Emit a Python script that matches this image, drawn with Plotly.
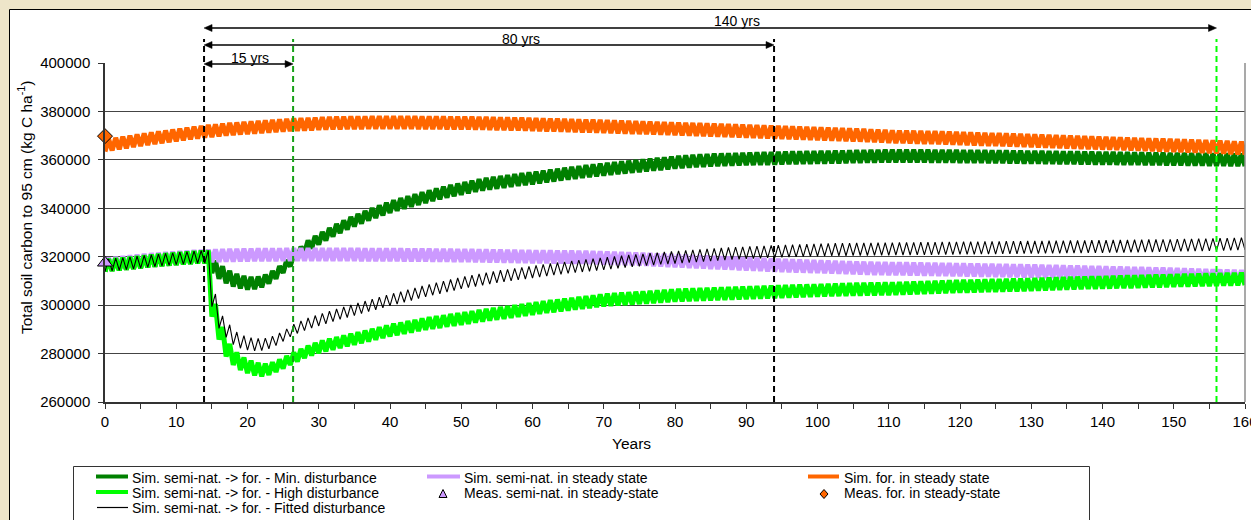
import plotly.graph_objects as go

# ---------------- data (values in thousand kg C/ha) ----------------
years = list(range(0, 161))

# shared pre-disturbance part (years 0-14) of the three semi-nat. -> forest runs
pre_disturb_k = [316.5, 316.8, 317.0, 317.3, 317.6, 317.9, 318.2, 318.5, 318.8, 319.0,
                 319.3, 319.5, 319.7, 319.9, 320.0]

# years 15-160
min_dist_post_k = [315.8, 313.5, 311.6, 310.3, 309.5, 309.0, 309.2, 310.0, 311.5, 313.5, 316.0, 318.6, 321.5, 324.1, 326.0, 327.6,
                   329.3, 330.9, 332.4, 333.8, 335.1, 336.3, 337.5, 338.6, 339.7, 340.7,
                   341.6, 342.4, 343.2, 344.0, 344.8, 345.6, 346.3, 347.0, 347.6, 348.2,
                   348.8, 349.4, 349.9, 350.3, 350.7, 351.1, 351.5, 351.9, 352.2, 352.5,
                   352.9, 353.3, 353.7, 354.1, 354.5, 354.8, 355.2, 355.5, 355.8, 356.1,
                   356.4, 356.7, 357.0, 357.3, 357.6, 357.9, 358.2, 358.4, 358.7, 359.0,
                   359.2, 359.4, 359.6, 359.7, 359.9, 360.0, 360.1, 360.2, 360.3, 360.4,
                   360.5, 360.6, 360.6, 360.7, 360.8, 360.9, 360.9, 361.0, 361.0, 361.1,
                   361.1, 361.2, 361.2, 361.3, 361.4, 361.4, 361.5, 361.5, 361.6, 361.6,
                   361.6, 361.6, 361.6, 361.6, 361.6, 361.5, 361.5, 361.5, 361.5, 361.4,
                   361.4, 361.4, 361.4, 361.3, 361.3, 361.3, 361.2, 361.2, 361.1, 361.1,
                   361.1, 361.0, 361.0, 360.9, 360.9, 360.9, 360.8, 360.8, 360.7, 360.7,
                   360.7, 360.6, 360.6, 360.5, 360.5, 360.4, 360.4, 360.4, 360.3, 360.3,
                   360.3, 360.2, 360.2, 360.2, 360.1, 360.1, 360.1, 360.0, 360.0, 360.0]

high_dist_post_k = [297.9, 288.4, 281.4, 277.9, 275.8, 274.5, 273.6, 273.2, 273.8, 275.0, 276.4, 277.9, 279.3, 280.7, 281.8, 282.8,
                    283.5, 284.2, 284.9, 285.6, 286.2, 286.9, 287.6, 288.3, 289.0, 289.7,
                    290.2, 290.8, 291.3, 291.9, 292.4, 292.8, 293.2, 293.7, 294.1, 294.5,
                    294.9, 295.4, 295.8, 296.2, 296.6, 297.0, 297.4, 297.8, 298.2, 298.6,
                    299.0, 299.4, 299.7, 300.1, 300.4, 300.8, 301.1, 301.4, 301.8, 302.1,
                    302.3, 302.5, 302.7, 302.9, 303.1, 303.3, 303.5, 303.7, 303.9, 304.1,
                    304.2, 304.3, 304.4, 304.5, 304.6, 304.7, 304.8, 304.9, 305.0, 305.1,
                    305.2, 305.3, 305.4, 305.5, 305.6, 305.7, 305.8, 305.9, 306.0, 306.1,
                    306.2, 306.3, 306.4, 306.5, 306.6, 306.6, 306.7, 306.7, 306.8, 306.8,
                    306.9, 307.0, 307.1, 307.2, 307.3, 307.4, 307.5, 307.6, 307.7, 307.8,
                    307.8, 307.9, 308.0, 308.1, 308.1, 308.2, 308.3, 308.3, 308.4, 308.5,
                    308.6, 308.7, 308.8, 308.9, 309.0, 309.1, 309.2, 309.3, 309.3, 309.4,
                    309.5, 309.6, 309.7, 309.7, 309.8, 309.9, 310.0, 310.0, 310.1, 310.2,
                    310.3, 310.3, 310.4, 310.5, 310.5, 310.6, 310.7, 310.7, 310.8, 310.9]

fitted_post_k = [302.0, 293.0, 289.3, 286.3, 284.8, 284.0, 283.7, 283.8, 284.6, 285.9, 287.6, 289.5, 290.9, 292.1, 293.1, 294.0,
                 294.9, 295.8, 296.7, 297.5, 298.3, 299.1, 299.9, 300.7, 301.5, 302.3,
                 303.0, 303.8, 304.5, 305.3, 306.0, 306.7, 307.3, 308.0, 308.6, 309.3,
                 309.8, 310.3, 310.8, 311.3, 311.8, 312.2, 312.6, 313.0, 313.4, 313.8,
                 314.2, 314.6, 315.0, 315.3, 315.7, 316.0, 316.3, 316.6, 316.9, 317.2,
                 317.5, 317.8, 318.1, 318.4, 318.6, 318.9, 319.1, 319.4, 319.6, 319.8,
                 320.0, 320.2, 320.4, 320.6, 320.8, 321.0, 321.2, 321.4, 321.5, 321.7,
                 321.8, 321.9, 322.1, 322.2, 322.3, 322.4, 322.5, 322.6, 322.7, 322.8,
                 322.9, 323.0, 323.0, 323.0, 323.1, 323.1, 323.1, 323.2, 323.2, 323.2,
                 323.3, 323.3, 323.3, 323.4, 323.4, 323.4, 323.5, 323.5, 323.5, 323.6,
                 323.6, 323.6, 323.7, 323.7, 323.7, 323.8, 323.8, 323.8, 323.9, 323.9,
                 323.9, 324.0, 324.0, 324.0, 324.1, 324.1, 324.1, 324.2, 324.2, 324.2,
                 324.3, 324.3, 324.3, 324.4, 324.4, 324.5, 324.5, 324.6, 324.6, 324.7,
                 324.8, 324.8, 324.9, 324.9, 325.0, 325.1, 325.1, 325.2, 325.3, 325.4]

# years 0-160
semi_nat_k = [317.0, 317.3, 317.6, 317.9, 318.2, 318.5, 318.8, 319.0, 319.3, 319.5, 319.7, 319.9, 320.1, 320.2, 320.3,
              320.4, 320.5, 320.6, 320.6, 320.7, 320.7, 320.8, 320.8, 320.8, 320.8,
              320.9, 320.9, 320.9, 320.9, 320.9, 320.9, 320.9, 320.9, 320.9, 320.9,
              320.9, 320.8, 320.8, 320.8, 320.8, 320.8, 320.8, 320.7, 320.7, 320.7,
              320.7, 320.6, 320.6, 320.6, 320.5, 320.5, 320.5, 320.4, 320.4, 320.3,
              320.3, 320.2, 320.2, 320.1, 320.1, 320.0, 320.0, 320.0, 319.9, 319.9,
              319.9, 319.8, 319.8, 319.7, 319.6, 319.5, 319.4, 319.3, 319.2, 319.1,
              319.0, 318.9, 318.7, 318.6, 318.4, 318.3, 318.2, 318.0, 317.9, 317.8,
              317.6, 317.5, 317.4, 317.3, 317.1, 317.0, 316.9, 316.8, 316.6, 316.5,
              316.4, 316.3, 316.2, 316.1, 316.0, 315.9, 315.8, 315.7, 315.6, 315.5,
              315.4, 315.3, 315.2, 315.1, 315.1, 315.0, 315.0, 315.0, 314.9, 314.9,
              314.8, 314.8, 314.7, 314.7, 314.6, 314.6, 314.5, 314.5, 314.4, 314.4,
              314.3, 314.3, 314.2, 314.2, 314.1, 314.1, 314.0, 313.9, 313.9, 313.8,
              313.7, 313.7, 313.6, 313.5, 313.5, 313.4, 313.3, 313.3, 313.2, 313.1,
              313.1, 313.0, 312.9, 312.9, 312.8, 312.7, 312.6, 312.5, 312.4, 312.3,
              312.2, 312.1, 312.0, 311.9, 311.8, 311.7]

forest_k = [366.0, 366.5, 367.0, 367.4, 367.9, 368.3, 368.7, 369.1, 369.5, 369.9, 370.3, 370.7, 371.1, 371.4, 371.8,
            372.0, 372.3, 372.6, 372.8, 373.1, 373.3, 373.5, 373.7, 373.9, 374.1,
            374.3, 374.5, 374.6, 374.7, 374.8, 375.0, 375.1, 375.2, 375.2, 375.3,
            375.3, 375.3, 375.4, 375.4, 375.4, 375.4, 375.4, 375.4, 375.4, 375.3,
            375.3, 375.3, 375.3, 375.2, 375.2, 375.2, 375.2, 375.1, 375.1, 375.0,
            374.9, 374.9, 374.8, 374.8, 374.7, 374.6, 374.5, 374.4, 374.4, 374.3,
            374.2, 374.1, 374.0, 374.0, 373.9, 373.8, 373.7, 373.6, 373.5, 373.4,
            373.3, 373.2, 373.1, 373.0, 372.9, 372.8, 372.7, 372.6, 372.5, 372.4,
            372.3, 372.2, 372.1, 372.0, 371.9, 371.8, 371.7, 371.6, 371.5, 371.4,
            371.3, 371.2, 371.1, 371.0, 370.9, 370.8, 370.7, 370.6, 370.5, 370.4,
            370.3, 370.2, 370.0, 369.9, 369.8, 369.6, 369.5, 369.5, 369.4, 369.3,
            369.2, 369.2, 369.1, 369.0, 368.9, 368.8, 368.7, 368.6, 368.5, 368.4,
            368.4, 368.3, 368.2, 368.1, 368.0, 367.9, 367.8, 367.7, 367.6, 367.5,
            367.4, 367.3, 367.2, 367.1, 367.0, 366.9, 366.8, 366.7, 366.6, 366.5,
            366.4, 366.3, 366.2, 366.1, 366.0, 365.9, 365.8, 365.7, 365.6, 365.5,
            365.4, 365.3, 365.2, 365.0, 364.9, 364.8]

# half of the within-year (seasonal) swing, thousand kg C/ha
swing_k = 2.6

meas_semi_nat = [0, 317500]
meas_forest = [0, 369800]

vline_years = [13.9, 26.4, 93.9, 156.0]
spans = [("15 yrs", 13.9, 26.4), ("80 yrs", 13.9, 93.9), ("140 yrs", 13.9, 156.0)]

y_ticks = [260000, 280000, 300000, 320000, 340000, 360000, 380000, 400000]

# ---------------- helpers ----------------
W, H = 1251, 520
L, R, T, B = 105, 1245, 63, 402
X_MAX = 160


def px(xp):
    return (xp - L) / (R - L)


def py(yp):
    return (B - yp) / (B - T)


def x_to_pix(xv):
    return L + xv * (R - L) / X_MAX


def seasonal(mid_k):
    xs, ys = [], []
    for i, m in enumerate(mid_k):
        xs.append(years[i])
        ys.append((m - swing_k) * 1000)
        if i < len(mid_k) - 1:
            xs.append(years[i] + 0.5)
            ys.append((m + swing_k) * 1000)
    return xs, ys


FONT = "Liberation Sans, Arial, sans-serif"

fig = go.Figure()

series = [
    ("Sim. semi-nat. -> for. - Min. disturbance", pre_disturb_k + min_dist_post_k, "#008000", 5),
    ("Sim. semi-nat. in steady state", semi_nat_k, "#CC99FF", 5),
    ("Sim. for. in steady state", forest_k, "#FF6600", 5),
    ("Sim. semi-nat. -> for. - High disturbance", pre_disturb_k + high_dist_post_k, "#00FF00", 5),
    ("Sim. semi-nat. -> for. - Fitted disturbance", pre_disturb_k + fitted_post_k, "#000000", 1.1),
]
for name, mid, col, w in series:
    xs, ys = seasonal(mid)
    fig.add_trace(go.Scatter(x=xs, y=ys, mode="lines", name=name,
                             line=dict(color=col, width=w), showlegend=False,
                             hoverinfo="skip"))

fig.add_trace(go.Scatter(x=[meas_semi_nat[0]], y=[meas_semi_nat[1]], mode="markers",
                         name="Meas. semi-nat. in steady-state", showlegend=False,
                         marker=dict(symbol="triangle-up", size=13, color="#CC99FF",
                                     line=dict(color="#000000", width=1)),
                         cliponaxis=False, hoverinfo="skip"))
fig.add_trace(go.Scatter(x=[meas_forest[0]], y=[meas_forest[1]], mode="markers",
                         name="Meas. for. in steady-state", showlegend=False,
                         marker=dict(symbol="diamond", size=11.5, color="#FF6600",
                                     line=dict(color="#000000", width=1)),
                         cliponaxis=False, hoverinfo="skip"))

shapes = []
# white chart area with black frame
shapes.append(dict(type="rect", xref="paper", yref="paper",
                   x0=px(9.5), x1=px(1270), y0=py(540), y1=py(9.5),
                   fillcolor="white", line=dict(color="#000000", width=1), layer="below"))
# legend frame
shapes.append(dict(type="rect", xref="paper", yref="paper",
                   x0=px(73.5), x1=px(1089.5), y0=py(540), y1=py(466.5),
                   fillcolor="white", line=dict(color="#333333", width=1), layer="below"))
# right plot border
shapes.append(dict(type="line", xref="paper", yref="paper", x0=1, x1=1, y0=0, y1=1,
                   line=dict(color="#8c8c8c", width=1.5)))

vcols = ["#000000", "#16A016", "#000000", "#00FF00"]
for xv, c in zip(vline_years, vcols):
    shapes.append(dict(type="line", xref="x", yref="paper", x0=xv, x1=xv,
                       y0=0, y1=py(39), line=dict(color=c, width=2, dash="6px,4px")))

annotations = []
arrow_y = {"15 yrs": 64, "80 yrs": 45, "140 yrs": 28}
label_pos = {"15 yrs": (250, 58), "80 yrs": (521, 39), "140 yrs": (737, 21)}
HEAD_L, HEAD_W = 8, 3.5
for lab, a, b in spans:
    yy = arrow_y[lab]
    xa, xb = x_to_pix(a), x_to_pix(b)
    shapes.append(dict(type="line", xref="paper", yref="paper",
                       x0=px(xa + 3), x1=px(xb - 3), y0=py(yy), y1=py(yy),
                       line=dict(color="#000000", width=1.6)))
    shapes.append(dict(type="path", xref="paper", yref="paper",
                       path=(f"M {px(xa)} {py(yy)} L {px(xa + HEAD_L)} {py(yy - HEAD_W)} "
                             f"L {px(xa + HEAD_L)} {py(yy + HEAD_W)} Z"),
                       fillcolor="#000000", line=dict(color="#000000", width=0.5)))
    shapes.append(dict(type="path", xref="paper", yref="paper",
                       path=(f"M {px(xb)} {py(yy)} L {px(xb - HEAD_L)} {py(yy - HEAD_W)} "
                             f"L {px(xb - HEAD_L)} {py(yy + HEAD_W)} Z"),
                       fillcolor="#000000", line=dict(color="#000000", width=0.5)))
    lx, ly = label_pos[lab]
    annotations.append(dict(x=px(lx), y=py(ly), xref="paper", yref="paper", text=lab,
                            showarrow=False, xanchor="center", yanchor="middle",
                            font=dict(family=FONT, size=14, color="#000000")))

# axis titles
annotations.append(dict(x=px(25), y=py(208), xref="paper", yref="paper",
                        text="Total soil carbon to 95 cm (kg C ha<sup>-1</sup>)",
                        textangle=-90, showarrow=False, xanchor="center", yanchor="middle",
                        font=dict(family=FONT, size=15.5, color="#000000")))
annotations.append(dict(x=px(631), y=py(443), xref="paper", yref="paper", text="Years",
                        showarrow=False, xanchor="center", yanchor="middle",
                        font=dict(family=FONT, size=15.5, color="#000000")))

# custom legend
leg_font = dict(family=FONT, size=14, color="#000000")
leg_lines = [
    (96, 128, 476.5, "#008000", 4, 130, 477.5, "Sim. semi-nat. -> for. - Min. disturbance"),
    (96, 128, 492, "#00FF00", 4, 130, 493, "Sim. semi-nat. -> for. - High disturbance"),
    (97, 128, 507.5, "#000000", 1.2, 130, 507.5, "Sim. semi-nat. -> for. - Fitted disturbance"),
    (427, 460, 476.5, "#CC99FF", 4, 462, 477.5, "Sim. semi-nat. in steady state"),
    (808, 839, 476.5, "#FF6600", 4, 842, 477.5, "Sim. for. in steady state"),
]
for x0, x1, yy, c, w, tx, ty, txt in leg_lines:
    shapes.append(dict(type="line", xref="paper", yref="paper", x0=px(x0), x1=px(x1),
                       y0=py(yy), y1=py(yy), line=dict(color=c, width=w)))
    annotations.append(dict(x=px(tx), y=py(ty), xref="paper", yref="paper", text=txt,
                            showarrow=False, xanchor="left", yanchor="middle", font=leg_font))

# legend marker samples
cx, cy = 443, 494
shapes.append(dict(type="path", xref="paper", yref="paper",
                   path=f"M {px(cx-4)} {py(cy+3.5)} L {px(cx+4)} {py(cy+3.5)} L {px(cx)} {py(cy-4.5)} Z",
                   fillcolor="#CC99FF", line=dict(color="#000000", width=1)))
annotations.append(dict(x=px(462), y=py(493), xref="paper", yref="paper",
                        text="Meas. semi-nat. in steady-state", showarrow=False,
                        xanchor="left", yanchor="middle", font=leg_font))
cx, cy = 824, 494
shapes.append(dict(type="path", xref="paper", yref="paper",
                   path=f"M {px(cx)} {py(cy-4.5)} L {px(cx+4)} {py(cy)} L {px(cx)} {py(cy+4.5)} L {px(cx-4)} {py(cy)} Z",
                   fillcolor="#FF6600", line=dict(color="#000000", width=1)))
annotations.append(dict(x=px(842), y=py(493), xref="paper", yref="paper",
                        text="Meas. for. in steady-state", showarrow=False,
                        xanchor="left", yanchor="middle", font=leg_font))

fig.update_layout(
    width=W, height=H,
    margin=dict(l=L, r=W - R, t=T, b=H - B, autoexpand=False),
    paper_bgcolor="#EEE5C9",
    plot_bgcolor="white",
    showlegend=False,
    shapes=shapes,
    annotations=annotations,
    font=dict(family=FONT, size=15, color="#000000"),
)
fig.update_xaxes(range=[0, X_MAX], tickmode="linear", tick0=0, dtick=10,
                 ticks="outside", ticklen=5, tickcolor="#333333", tickwidth=1,
                 minor=dict(dtick=5, ticks="outside", ticklen=5, tickcolor="#333333", showgrid=False),
                 showline=True, linecolor="#333333", linewidth=1.5, showgrid=False,
                 zeroline=False, ticklabelstandoff=0, ticklabeloverflow="allow",
                 automargin=False,
                 tickfont=dict(family=FONT, size=15, color="#000000"))
fig.update_yaxes(range=[260000, 400000], tickvals=y_ticks, tickformat="d",
                 ticks="outside", ticklen=5, tickcolor="#333333",
                 showline=True, linecolor="#333333", linewidth=1.5,
                 showgrid=True, gridcolor="#444444", gridwidth=1,
                 zeroline=False, ticklabelstandoff=5, automargin=False,
                 tickfont=dict(family=FONT, size=15, color="#000000"))

fig.write_html("out.html", post_script="document.body.style.margin='0';",
               config={"displayModeBar": False})
